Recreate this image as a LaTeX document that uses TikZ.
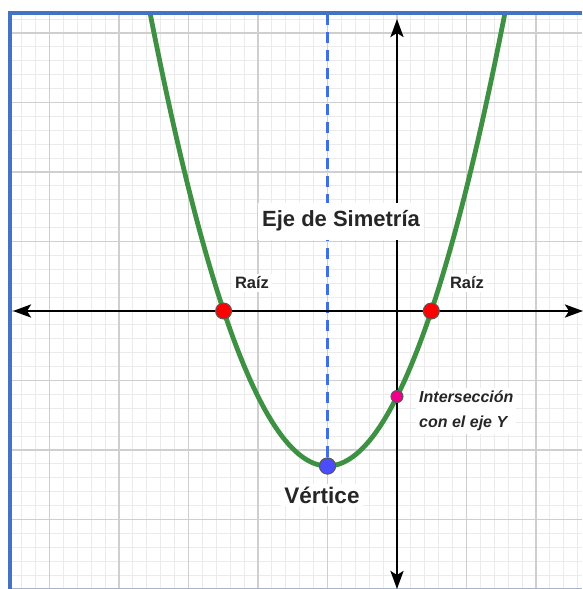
\documentclass[tikz,border=0pt]{standalone}
\usepackage{fontspec}
\setmainfont{Liberation Sans}
\usetikzlibrary{arrows.meta}
\definecolor{gridmajor}{HTML}{CFCFCF}
\definecolor{gridminor}{HTML}{EBEBEB}
\definecolor{framecol}{HTML}{4472C4}
\definecolor{curvecol}{HTML}{3E9142}
\definecolor{dashcol}{HTML}{3F6FE0}
\tikzset{
  minorline/.style={draw=gridminor, line width=1pt},
  majorline/.style={draw=gridmajor, line width=1.7pt},
  axisline/.style={draw=black, line width=2.6pt, {Stealth[length=18pt,width=13pt,inset=4pt]}-{Stealth[length=18pt,width=13pt,inset=4pt]}},
  curve/.style={draw=curvecol, line width=4.8pt},
  symline/.style={draw=dashcol, line width=2.8pt, dash pattern=on 11pt off 7pt},
  dot/.style={circle, draw=black!65, line width=1pt, inner sep=0pt, minimum size=#1},
  lbl/.style={fill=white, text=black!85, font=\bfseries, inner sep=3pt},
}
\begin{document}
\begin{tikzpicture}[x=1pt,y=-1pt]
\useasboundingbox (0,0) rectangle (582,589);
\fill[white] (0,0) rectangle (582,589);
% grid
\foreach \k in {-27,...,13} {\draw[minorline] ({397+13.9*\k},13) -- ({397+13.9*\k},589);}
\foreach \k in {-21,...,19} {\draw[minorline] (10,{311+13.9*\k}) -- (582,{311+13.9*\k});}
\foreach \k in {-5,-4,...,2} {\draw[majorline] ({397+69.5*\k},13) -- ({397+69.5*\k},589);}
\foreach \k in {-4,...,3} {\draw[majorline] (10,{311+69.5*\k}) -- (582,{311+69.5*\k});}
\draw[gridmajor!70!framecol, line width=0.8pt] (10,588.6) -- (582,588.6);
% axis of symmetry
\coordinate (symtop) at (327.5,14);
\node[dot=16pt, fill=blue!70!white] (vertex) at (327.5,466) {};
\draw[symline] (symtop) -- (vertex.center);
% axes
\coordinate (xl) at (13,311);
\coordinate (xr) at (583,311);
\coordinate (yt) at (397,19);
\coordinate (yb) at (397,589);
\draw[axisline] (xl) -- (xr);
\draw[axisline] (yt) -- (yb);
% parabola
\begin{scope}
\clip (10,13) rectangle (582,589);
\draw[curve] plot[domain=-3.6:1.6, samples=120, smooth] ({397+69.5*\x},{311-69.5*((\x+1)*(\x+1)-2.23)});
\end{scope}
% labels
\node[lbl, font=\fontsize{22}{26}\selectfont\bfseries, minimum width=166pt, minimum height=37pt] (eje) at (341,221) {Eje de Simetría};
\node[lbl, font=\fontsize{16.5}{20}\selectfont\bfseries] (raizL) at (252,283) {Raíz};
\node[lbl, font=\fontsize{16.5}{20}\selectfont\bfseries] (raizR) at (467,283) {Raíz};
\node[lbl, font=\fontsize{22.5}{26}\selectfont\bfseries] (vert) at (322,495) {Vértice};
\node[lbl, font=\fontsize{16}{25}\selectfont\bfseries\itshape, align=left, anchor=west] (inter) at (416,411) {Intersección\\con el eje Y};
% points
\node[dot=16pt, fill=red] (r1) at (223.6,311) {};
\node[dot=16pt, fill=red] (r2) at (431.3,311) {};
\node[dot=16pt, fill=blue!70!white] at (vertex) {};
\node[dot=12pt, fill=magenta] (yint) at (397,396.5) {};
% frame
\draw[framecol, line width=4pt] (10,589) -- (10,13) -- (582,13);
\end{tikzpicture}
\end{document}
